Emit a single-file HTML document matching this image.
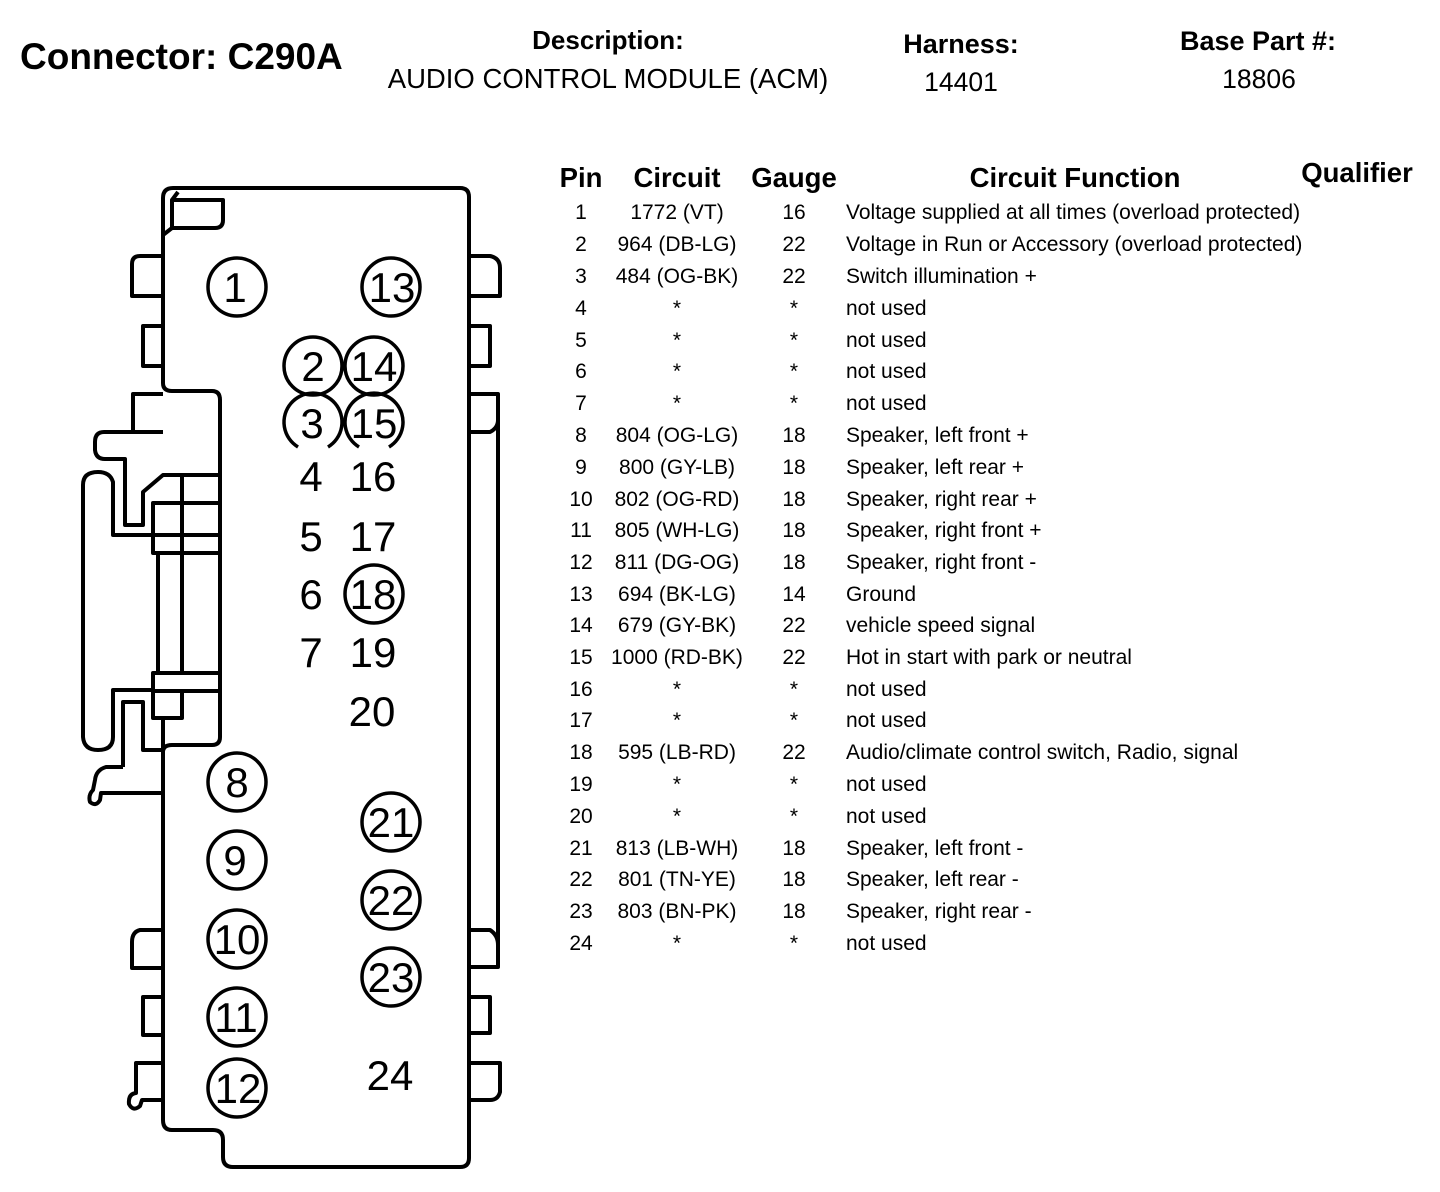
<!DOCTYPE html>
<html><head><meta charset="utf-8"><style>
html,body{margin:0;padding:0;background:#fff}
svg{display:block}
text{font-family:"Liberation Sans",Arial,sans-serif;fill:#000}
.h{font-weight:bold}
.r{font-size:21px}
.p{font-size:42px;text-anchor:middle}
</style></head><body>
<svg width="1440" height="1192" viewBox="0 0 1440 1192" xmlns="http://www.w3.org/2000/svg">
<text x="20" y="69" class="h" font-size="37">Connector: C290A</text>
<text x="608" y="49" class="h" font-size="26" text-anchor="middle">Description:</text>
<text x="608" y="88" font-size="27.5" text-anchor="middle">AUDIO CONTROL MODULE (ACM)</text>
<text x="961" y="53" class="h" font-size="27" text-anchor="middle">Harness:</text>
<text x="961" y="91" font-size="26.5" text-anchor="middle">14401</text>
<text x="1258" y="50" class="h" font-size="27" text-anchor="middle">Base Part #:</text>
<text x="1259" y="88" font-size="26.5" text-anchor="middle">18806</text>

<g class="h" font-size="27.5" text-anchor="middle">
<text x="581" y="187">Pin</text><text x="677" y="187">Circuit</text><text x="794" y="187">Gauge</text><text x="1075" y="187">Circuit Function</text><text x="1357" y="182">Qualifier</text>
</g>
<g class="r">
<g text-anchor="middle">
<text x="581" y="219">1</text><text x="677" y="219">1772 (VT)</text><text x="794" y="219">16</text>
<text x="581" y="251">2</text><text x="677" y="251">964 (DB-LG)</text><text x="794" y="251">22</text>
<text x="581" y="283">3</text><text x="677" y="283">484 (OG-BK)</text><text x="794" y="283">22</text>
<text x="581" y="315">4</text><text x="677" y="315">*</text><text x="794" y="315">*</text>
<text x="581" y="347">5</text><text x="677" y="347">*</text><text x="794" y="347">*</text>
<text x="581" y="378">6</text><text x="677" y="378">*</text><text x="794" y="378">*</text>
<text x="581" y="410">7</text><text x="677" y="410">*</text><text x="794" y="410">*</text>
<text x="581" y="442">8</text><text x="677" y="442">804 (OG-LG)</text><text x="794" y="442">18</text>
<text x="581" y="474">9</text><text x="677" y="474">800 (GY-LB)</text><text x="794" y="474">18</text>
<text x="581" y="506">10</text><text x="677" y="506">802 (OG-RD)</text><text x="794" y="506">18</text>
<text x="581" y="537">11</text><text x="677" y="537">805 (WH-LG)</text><text x="794" y="537">18</text>
<text x="581" y="569">12</text><text x="677" y="569">811 (DG-OG)</text><text x="794" y="569">18</text>
<text x="581" y="601">13</text><text x="677" y="601">694 (BK-LG)</text><text x="794" y="601">14</text>
<text x="581" y="632">14</text><text x="677" y="632">679 (GY-BK)</text><text x="794" y="632">22</text>
<text x="581" y="664">15</text><text x="677" y="664">1000 (RD-BK)</text><text x="794" y="664">22</text>
<text x="581" y="696">16</text><text x="677" y="696">*</text><text x="794" y="696">*</text>
<text x="581" y="727">17</text><text x="677" y="727">*</text><text x="794" y="727">*</text>
<text x="581" y="759">18</text><text x="677" y="759">595 (LB-RD)</text><text x="794" y="759">22</text>
<text x="581" y="791">19</text><text x="677" y="791">*</text><text x="794" y="791">*</text>
<text x="581" y="823">20</text><text x="677" y="823">*</text><text x="794" y="823">*</text>
<text x="581" y="855">21</text><text x="677" y="855">813 (LB-WH)</text><text x="794" y="855">18</text>
<text x="581" y="886">22</text><text x="677" y="886">801 (TN-YE)</text><text x="794" y="886">18</text>
<text x="581" y="918">23</text><text x="677" y="918">803 (BN-PK)</text><text x="794" y="918">18</text>
<text x="581" y="950">24</text><text x="677" y="950">*</text><text x="794" y="950">*</text>
</g>
<text x="846" y="219">Voltage supplied at all times (overload protected)</text>
<text x="846" y="251">Voltage in Run or Accessory (overload protected)</text>
<text x="846" y="283">Switch illumination +</text>
<text x="846" y="315">not used</text>
<text x="846" y="347">not used</text>
<text x="846" y="378">not used</text>
<text x="846" y="410">not used</text>
<text x="846" y="442">Speaker, left front +</text>
<text x="846" y="474">Speaker, left rear +</text>
<text x="846" y="506">Speaker, right rear +</text>
<text x="846" y="537">Speaker, right front +</text>
<text x="846" y="569">Speaker, right front -</text>
<text x="846" y="601">Ground</text>
<text x="846" y="632">vehicle speed signal</text>
<text x="846" y="664">Hot in start with park or neutral</text>
<text x="846" y="696">not used</text>
<text x="846" y="727">not used</text>
<text x="846" y="759">Audio/climate control switch, Radio, signal</text>
<text x="846" y="791">not used</text>
<text x="846" y="823">not used</text>
<text x="846" y="855">Speaker, left front -</text>
<text x="846" y="886">Speaker, left rear -</text>
<text x="846" y="918">Speaker, right rear -</text>
<text x="846" y="950">not used</text>
</g>

<g fill="none" stroke="#000" stroke-width="4" stroke-linejoin="round">
<path d="M163,383 L163,198 Q163,188 173,188 L460,188 Q469,188 469,197 L469,1158 Q469,1167 460,1167 L233,1167 Q223,1167 223,1157 L223,1140 Q223,1130 213,1130 L172,1130 Q163,1130 163,1120 L163,718"/>
<path d="M163,383 Q163,391 172,391 L212,391 Q220,391 220,400 L220,737 Q220,745 212,745 L172,745 Q163,745 163,752"/>
<path d="M163,235 L172,228 L215,228 Q223,228 223,220 L223,200 L172,200 L172,228 M172,200 L178,192"/>
<path d="M163,256 L140,256 Q132,256 132,264 L132,296 L163,296"/>
<path d="M163,326 L143,326 L143,366 L163,366"/>
<path d="M163,394 L133,394 L133,432"/>
<path d="M163,432 L104,432 Q95,432 95,442 L95,450 Q96,459 105,459 L125,459 L125,525 L143,525 L143,492 L163,475 L220,475"/>
<path d="M220,535 L113,535 L113,482 Q110,472 98,472 Q83,472 83,485 L83,737 Q84,750 98,750 Q113,750 113,737 L113,690 L153,690"/>
<rect x="182" y="475" width="38" height="60"/>
<path d="M220,503 L153,503 L153,553 L220,553 M182,503 L182,553"/>
<path d="M158,553 L158,673 M182,553 L182,673"/>
<rect x="153" y="673" width="67" height="18"/>
<path d="M153,691 L153,718 L182,718 L182,691"/>
<path d="M123,767 L123,702 L143,702 L143,750 L163,750"/>
<path d="M123,767 L106,767 Q96,770 95,780 L93,790 Q88,795 90,802 Q96,807 100,800 L101,793 L163,793"/>
<path d="M469,256 L490,256 Q500,258 500,268 L500,296 L469,296"/>
<path d="M469,326 L490,326 L490,366 L469,366"/>
<path d="M469,394 L498,394 L498,967 L469,967"/>
<path d="M469,432 L490,432 Q498,428 498,420"/>
<path d="M469,930 L490,930 Q498,935 498,945"/>
<path d="M469,997 L490,997 L490,1033 L469,1033"/>
<path d="M469,1063 L500,1063 L500,1092 Q498,1100 490,1100 L469,1100"/>
<path d="M163,930 L140,930 Q132,932 132,942 L132,968 L163,968"/>
<path d="M163,997 L143,997 L143,1035 L163,1035"/>
<path d="M163,1063 L136,1063 L136,1093 Q128,1094 129,1104 Q133,1112 140,1106 L142,1100 L163,1100"/>
<g stroke-width="3.5">
<circle cx="237" cy="287" r="29"/><circle cx="391" cy="287" r="29"/>
<circle cx="313" cy="366" r="29"/><circle cx="374" cy="366" r="29"/>
<path d="M298,447 A29,29 0 1 1 328,447"/>
<path d="M359,447 A29,29 0 1 1 389,447"/>
<circle cx="374" cy="594" r="29"/>
<circle cx="237" cy="782" r="29"/><circle cx="237" cy="860" r="29"/><circle cx="237" cy="939" r="29"/><circle cx="237" cy="1017" r="29"/><circle cx="237" cy="1088" r="29"/>
<circle cx="391" cy="822" r="29"/><circle cx="391" cy="900" r="29"/><circle cx="391" cy="977" r="29"/>
</g>
</g>
<g class="p">
<text x="235" y="302">1</text><text x="392" y="302">13</text>
<text x="313" y="381">2</text><text x="374" y="381">14</text>
<text x="312" y="438">3</text><text x="374" y="438">15</text>
<text x="311" y="491">4</text><text x="373" y="491">16</text>
<text x="311" y="551">5</text><text x="373" y="551">17</text>
<text x="311" y="609">6</text><text x="373" y="609">18</text>
<text x="311" y="667">7</text><text x="373" y="667">19</text>
<text x="372" y="726">20</text>
<text x="237" y="797">8</text><text x="235" y="875">9</text><text x="237" y="954">10</text><text x="236" y="1032">11</text><text x="238" y="1103">12</text>
<text x="391" y="837">21</text><text x="391" y="915">22</text><text x="391" y="992">23</text>
<text x="390" y="1090">24</text>
</g>
</svg>
</body></html>
